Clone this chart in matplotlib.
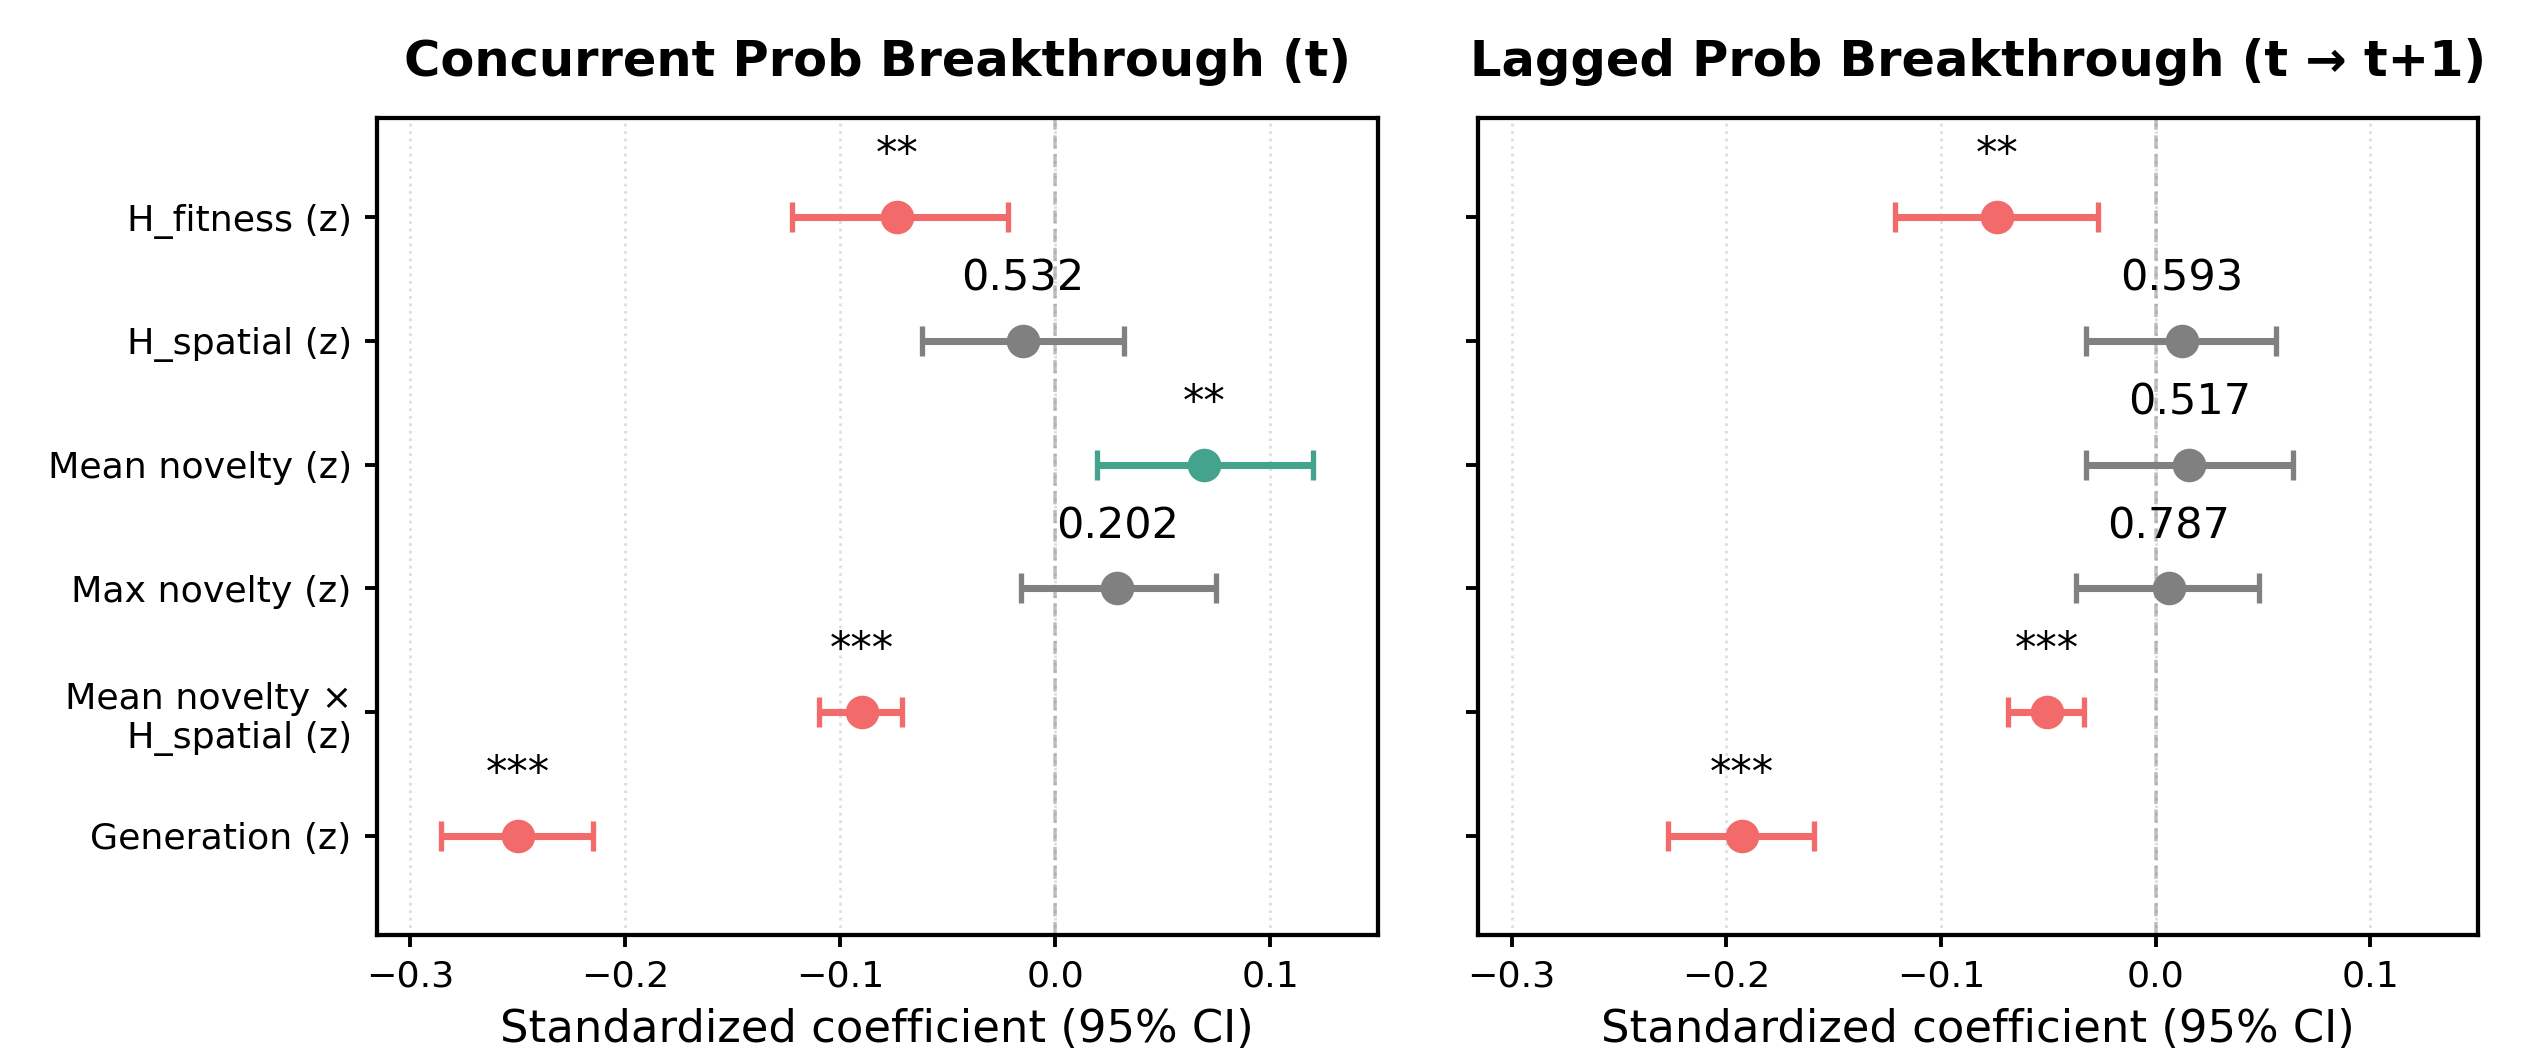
import numpy as np
import matplotlib
matplotlib.use("Agg")
import matplotlib.pyplot as plt

# Predictors (top to bottom)
labels = ["H_fitness (z)", "H_spatial (z)", "Mean novelty (z)", "Max novelty (z)",
          "Mean novelty \u00d7\nH_spatial (z)", "Generation (z)"]

# Concurrent model
conc_coef = [-0.0735, -0.015, 0.0695, 0.029, -0.090, -0.250]
conc_lo = [-0.1225, -0.062, 0.0197, -0.016, -0.110, -0.2856]
conc_hi = [-0.022, 0.032, 0.120, 0.075, -0.071, -0.215]
conc_txt = ["**", "0.532", "**", "0.202", "***", "***"]

# Lagged model
lag_coef = [-0.074, 0.012, 0.0157, 0.006, -0.0508, -0.1926]
lag_lo = [-0.1215, -0.0324, -0.0324, -0.0372, -0.0686, -0.227]
lag_hi = [-0.027, 0.056, 0.064, 0.048, -0.0333, -0.159]
lag_txt = ["**", "0.593", "0.517", "0.787", "***", "***"]

titles = ["Concurrent Prob Breakthrough (t)", "Lagged Prob Breakthrough (t \u2192 t+1)"]

RED = "#F26A6A"
GREEN = "#44A38D"
GRAY = "#808080"

fig = plt.figure(figsize=(10, 1054 / 254.4), dpi=254.4)
ax1 = fig.add_axes([0.148, 0.113, 0.3935, 0.775])
ax2 = fig.add_axes([0.581, 0.113, 0.393, 0.775], sharey=ax1)

y = np.arange(len(labels))
xmin = min(min(conc_lo), min(lag_lo)) - 0.03
xmax = max(max(conc_hi), max(lag_hi)) + 0.03

for ax, coef, lo, hi, txt, title in [(ax1, conc_coef, conc_lo, conc_hi, conc_txt, titles[0]),
                                     (ax2, lag_coef, lag_lo, lag_hi, lag_txt, titles[1])]:
    for i in range(len(labels)):
        if "*" in txt[i]:
            c = RED if coef[i] < 0 else GREEN
        else:
            c = GRAY
        ax.errorbar(coef[i], y[i], xerr=[[coef[i] - lo[i]], [hi[i] - coef[i]]],
                    fmt="o", color=c, markersize=8.5, elinewidth=2, capsize=4.2, capthick=1.5)
        ax.text(coef[i], y[i] - 0.33, txt[i], ha="center", va="bottom", fontsize=12.2)
    ax.axvline(0, color="gray", linestyle="--", linewidth=1, alpha=0.5)
    ax.grid(axis="x", linestyle=":", alpha=0.4)
    ax.set_axisbelow(True)
    ax.set_xlim(xmin, xmax)
    ax.set_xticks([-0.3, -0.2, -0.1, 0.0, 0.1])
    ax.tick_params(labelsize=10.3, width=1.1)
    for s in ax.spines.values():
        s.set_linewidth(1.2)
    ax.set_xlabel("Standardized coefficient (95% CI)", fontsize=12.7)
    ax.set_title(title, fontsize=14, fontweight="bold", pad=12)

ax1.set_yticks(y)
ax1.set_yticklabels(labels)
ax1.set_ylim(len(labels) - 0.2, -0.8)
plt.setp(ax2.get_yticklabels(), visible=False)

fig.savefig("out.png", dpi=254.4)
